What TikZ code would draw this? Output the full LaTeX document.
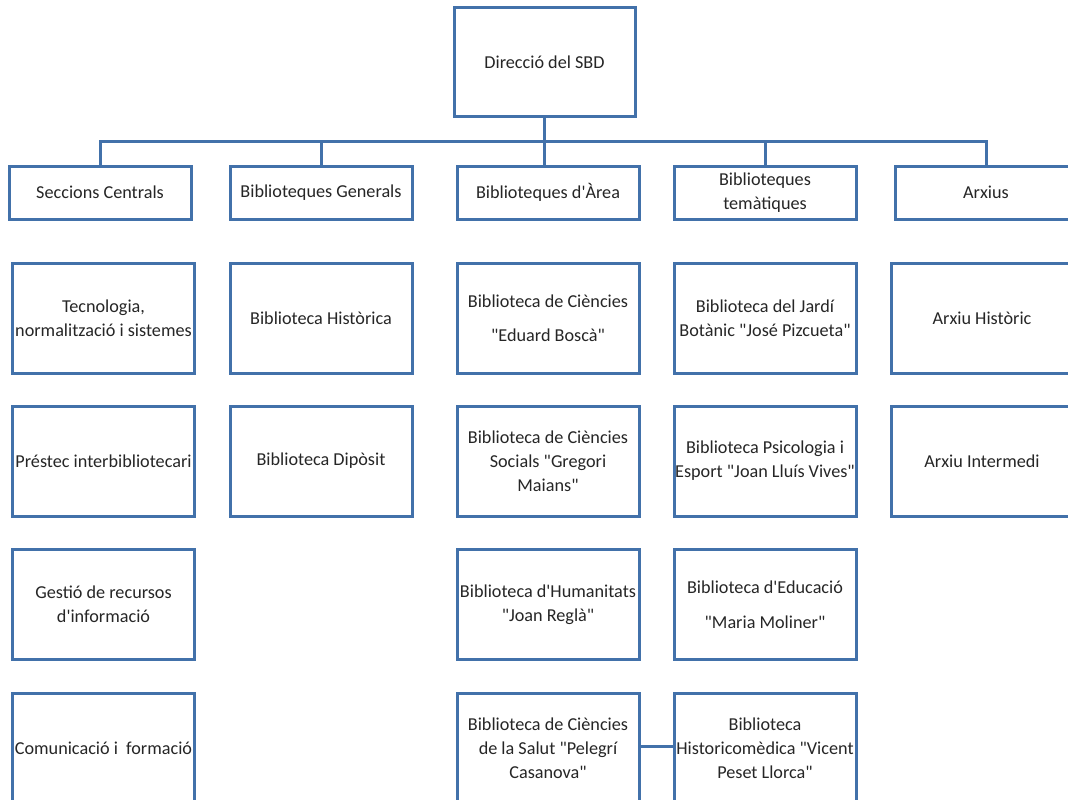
\documentclass[tikz,border=0pt]{standalone}
\usepackage{fontspec}
\setmainfont{Carlito}[Ligatures=TeXOff]
\definecolor{bl}{RGB}{66,113,170}
\definecolor{tx}{RGB}{38,38,38}
\begin{document}
\begin{tikzpicture}[x=1pt,y=-1pt,
  box/.style={draw=bl, line width=3pt, fill=white, text=tx, align=center,
    font=\fontsize{18.2}{24}\selectfont, inner sep=0pt,
    minimum width=182pt, minimum height=110pt},
  head/.style={box, minimum height=53pt},
  conn/.style={draw=bl, line width=3pt}]
\useasboundingbox (0,0) rectangle (1068,800);
\clip (0,0) rectangle (1068,800);
\fill[white] (0,0) rectangle (1068,800);
% top
\node[box, minimum width=181pt, minimum height=108pt] (top) at (544.5,62) {Direcció del SBD};
% level 1
\node[head] (secc) at (100,192.5) {Seccions Centrals};
\node[head] (gen) at (321,192.5) {Biblioteques Generals};
\node[head] (area) at (548,192.5) {Biblioteques d'Àrea};
\node[head] (tem) at (765,192.5) {Biblioteques\\temàtiques};
\node[head] (arx) at (986,192.5) {Arxius};
% column 1
\node[box] (c1a) at (103.5,318) {Tecnologia,\\normalització i sistemes};
\node[box] (c1b) at (103.5,461) {Préstec interbibliotecari};
\node[box] (c1c) at (103.5,604.5) {Gestió de recursos\\d'informació};
\node[box] (c1d) at (103.5,748) {Comunicació i\ \ formació};
% column 2
\node[box] (c2a) at (321,318) {Biblioteca Històrica};
\node[box] (c2b) at (321,461) {Biblioteca Dipòsit};
% column 3
\node[box] (c3a) at (548,318) {Biblioteca de Ciències\\[10pt]"Eduard Boscà"};
\node[box] (c3b) at (548,461) {Biblioteca de Ciències\\Socials "Gregori\\Maians"};
\node[box] (c3c) at (548,604.5) {Biblioteca d'Humanitats\\"Joan Reglà"};
\node[box] (c3d) at (548,748) {Biblioteca de Ciències\\de la Salut "Pelegrí\\Casanova"};
% column 4
\node[box] (c4a) at (765,318) {Biblioteca del Jardí\\Botànic "José Pizcueta"};
\node[box] (c4b) at (765,461) {Biblioteca Psicologia i\\Esport "Joan Lluís Vives"};
\node[box] (c4c) at (765,604.5) {Biblioteca d'Educació\\[11pt]"Maria Moliner"};
\node[box] (c4d) at (765,748) {Biblioteca\\Historicomèdica "Vicent\\Peset Llorca"};
% column 5
\node[box] (c5a) at (982,318) {Arxiu Històric};
\node[box] (c5b) at (982,461) {Arxiu Intermedi};
% connectors
\coordinate (bus) at (544.5,141);
\draw[conn] (top.south) -- (top.south |- area.north);
\draw[conn] (secc.north) |- (bus) -| (arx.north);
\draw[conn] (gen.north) -- (gen.north |- bus);
\draw[conn] (tem.north) -- (tem.north |- bus);
\draw[conn] (c3d.east |- 0,746) -- (c4d.west |- 0,746);
\end{tikzpicture}
\end{document}
